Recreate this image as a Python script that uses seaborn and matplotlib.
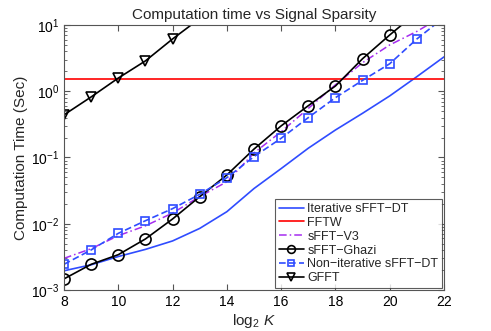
import matplotlib
matplotlib.use("Agg")
import matplotlib.pyplot as plt
import seaborn as sns
import numpy as np
import pandas as pd
from matplotlib.ticker import LogLocator, FixedLocator

# ---- data ----
K = [8, 9, 10, 11, 12, 13, 14, 15, 16, 17, 18, 19, 20, 21, 22]
iterative = [0.00195, 0.0024, 0.0032, 0.0041, 0.0055, 0.0085, 0.0152, 0.034,
             0.068, 0.138, 0.26, 0.465, 0.85, 1.66, 3.3]
fftw = [1.53] * len(K)
v3 = [0.0030, 0.0042, 0.0066, 0.0093, 0.0145, 0.0257, 0.043, 0.117,
      0.245, 0.55, 1.25, 2.7, 5.0, 8.0, 14.0]
K_ghazi = [8, 9, 10, 11, 12, 13, 14, 15, 16, 17, 18, 19, 20, 21]
ghazi = [0.00147, 0.00244, 0.00341, 0.00589, 0.0118, 0.0256, 0.0545, 0.134,
         0.30, 0.605, 1.2, 3.1, 7.07, 15.5]
noniter = [0.00244, 0.00402, 0.00716, 0.0111, 0.0169, 0.0278, 0.0495, 0.103,
           0.195, 0.40, 0.80, 1.46, 2.6, 6.15, 13.0]
K_gfft = [8, 9, 10, 11, 12, 13]
gfft = [0.44, 0.82, 1.58, 2.87, 6.15, 12.5]

xticks = [8, 10, 12, 14, 16, 18, 20, 22]

sns.set_style("ticks")
plt.rcParams['font.family'] = ['Liberation Sans', 'DejaVu Sans']
plt.rcParams['mathtext.fontset'] = 'custom'
plt.rcParams['mathtext.rm'] = 'Liberation Sans'
plt.rcParams['mathtext.it'] = 'Liberation Sans:italic'
plt.rcParams['axes.unicode_minus'] = True

fig = plt.figure(figsize=(4.91, 3.31), dpi=100)
ax = fig.add_axes([0.1303, 0.1239, 0.774, 0.8006])

blue = '#2f4cff'
purple = '#a52cf0'

sns.lineplot(x=K, y=iterative, ax=ax, color=blue, lw=1.2, label='Iterative sFFT\u2212DT')
sns.lineplot(x=K, y=fftw, ax=ax, color='#ff0000', lw=1.2, label='FFTW')
sns.lineplot(x=K, y=v3, ax=ax, color=purple, lw=1.1, label='sFFT\u2212V3')
sns.lineplot(x=K_ghazi, y=ghazi, ax=ax, color='black', lw=1.2, marker='o', markersize=8,
             markerfacecolor='none', markeredgecolor='black', markeredgewidth=1.2,
             label='sFFT\u2212Ghazi')
sns.lineplot(x=K, y=noniter, ax=ax, color=blue, lw=1.2, marker='s', markersize=6,
             markerfacecolor='none', markeredgecolor=blue, markeredgewidth=1.2,
             label='Non\u2212iterative sFFT\u2212DT')
sns.lineplot(x=K_gfft, y=gfft, ax=ax, color='black', lw=1.2, marker='v', markersize=7.5,
             markerfacecolor='none', markeredgecolor='black', markeredgewidth=1.2,
             label='GFFT')

lines = ax.get_lines()
lines[2].set_linestyle((0, (5, 2, 1, 2)))
lines[4].set_linestyle((0, (4, 2)))

ax.set_yscale('log')
ax.set_xlim(8, 22)
ax.set_ylim(1e-3, 1e1)
ax.xaxis.set_major_locator(FixedLocator(xticks))
ax.yaxis.set_major_locator(LogLocator(base=10, numticks=10))
ax.yaxis.set_minor_locator(LogLocator(base=10, subs=np.arange(2, 10) * 1.0, numticks=20))

for s in ax.spines.values():
    s.set_color('#555555')
    s.set_linewidth(0.8)
ax.tick_params(which='both', direction='in', top=True, right=True, colors='#555555',
               labelcolor='black', labelsize=10)
ax.tick_params(which='major', length=4, width=0.8)
ax.tick_params(axis='y', which='minor', length=2.5, width=0.6, left=True, right=True)

ax.set_title('Computation time vs Signal Sparsity', fontsize=11, pad=4)
ax.set_xlabel('log$_2$ $K$', fontsize=11, labelpad=2)
ax.set_ylabel('Computation Time (Sec)', fontsize=11, labelpad=2)

leg = ax.legend(loc='lower right', fontsize=9, frameon=True, fancybox=False,
                borderaxespad=0.15, handlelength=2.0, handletextpad=0.3,
                labelspacing=0.15, borderpad=0.3, markerscale=0.7)
leg.get_frame().set_edgecolor('#333333')
leg.get_frame().set_linewidth(0.8)

fig.savefig('out.png', dpi=100)
